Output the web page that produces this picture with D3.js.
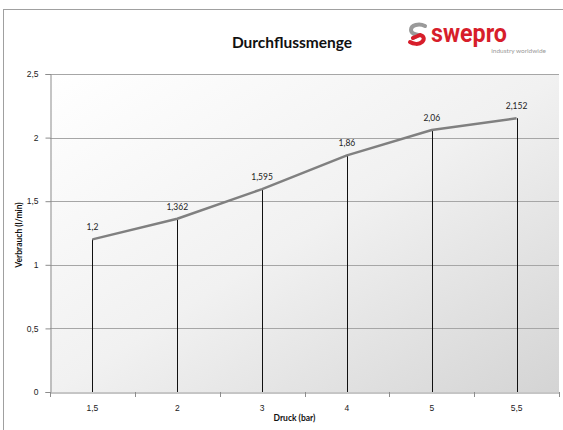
<!DOCTYPE html>
<html>
<head>
<meta charset="utf-8">
<script src="https://cdn.jsdelivr.net/npm/d3@7"></script>
<style>
  html, body { margin: 0; padding: 0; background: #fff; }
  svg { display: block; font-family: Lato, "Open Sans", "Liberation Sans", sans-serif; }
</style>
</head>
<body>
<svg id="chart" width="563" height="430"></svg>
<script>
/* Durchflussmenge — line with drop lines */

const pressures = ['1,5', '2', '3', '4', '5', '5,5'];
const flow = [1.2, 1.362, 1.595, 1.86, 2.06, 2.152];
const flowLabels = ['1,2', '1,362', '1,595', '1,86', '2,06', '2,152'];
const yTicks = [0, 0.5, 1, 1.5, 2, 2.5];
const yTickLabels = ['0', '0,5', '1', '1,5', '2', '2,5'];

const svg = d3.select('#chart');
const W = 563, H = 430;
const m = { left: 50, right: 559, top: 74, bottom: 392 };

// outer frame (cut off at right/bottom like the source)
svg.append('rect')
  .attr('x', 3.5).attr('y', 9.5)
  .attr('width', W + 10).attr('height', H + 10)
  .attr('fill', '#fff').attr('stroke', '#a0a0a0').attr('stroke-width', 1);

// plot background gradient
const defs = svg.append('defs');
const grad = defs.append('linearGradient')
  .attr('id', 'bg').attr('x1', '0').attr('y1', '0').attr('x2', '1').attr('y2', '1');
grad.append('stop').attr('offset', '0%').attr('stop-color', '#ffffff');
grad.append('stop').attr('offset', '50%').attr('stop-color', '#f1f1f1');
grad.append('stop').attr('offset', '100%').attr('stop-color', '#d4d4d4');

svg.append('rect')
  .attr('x', m.left).attr('y', m.top)
  .attr('width', m.right - m.left).attr('height', m.bottom - m.top)
  .attr('fill', 'url(#bg)');

const x = d3.scaleBand().domain(pressures).range([m.left, m.right]);
const y = d3.scaleLinear().domain([0, 2.5]).range([m.bottom, m.top]);
const cx = d => x(d) + x.bandwidth() / 2;

// gridlines
svg.append('g').selectAll('line')
  .data(yTicks.filter(t => t > 0))
  .enter().append('line')
  .attr('x1', m.left).attr('x2', m.right)
  .attr('y1', d => Math.round(y(d)) + 0.5).attr('y2', d => Math.round(y(d)) + 0.5)
  .attr('stroke', '#a6a6a6').attr('stroke-width', 1);

// y axis
const yAxis = svg.append('g')
  .attr('transform', `translate(${m.left + 0.5},0)`)
  .call(d3.axisLeft(y).tickValues(yTicks).tickSize(5).tickFormat((d, i) => yTickLabels[i]));
yAxis.select('.domain').attr('stroke', '#8c8c8c');
yAxis.selectAll('.tick line').attr('stroke', '#8c8c8c');
yAxis.selectAll('text').attr('font-size', 8.5).attr('fill', '#222').attr('x', -12);

// x axis
const xAxis = svg.append('g')
  .attr('transform', `translate(0,${m.bottom + 0.5})`)
  .call(d3.axisBottom(x).tickSize(0).tickPadding(12));
xAxis.select('.domain').attr('stroke', '#8c8c8c');
xAxis.selectAll('text').attr('font-size', 8.5).attr('fill', '#222');
// tick marks at category boundaries
const bounds = pressures.map(p => x(p)).concat([m.right]);
svg.append('g').selectAll('line')
  .data(bounds)
  .enter().append('line')
  .attr('x1', d => Math.round(d) + 0.5).attr('x2', d => Math.round(d) + 0.5)
  .attr('y1', m.bottom).attr('y2', m.bottom + 5)
  .attr('stroke', '#8c8c8c');

// drop lines
svg.append('g').selectAll('line')
  .data(pressures)
  .enter().append('line')
  .attr('x1', d => Math.round(cx(d)) + 0.5).attr('x2', d => Math.round(cx(d)) + 0.5)
  .attr('y1', (d, i) => y(flow[i])).attr('y2', m.bottom)
  .attr('stroke', '#111').attr('stroke-width', 1);

// series line
const line = d3.line().x((d, i) => cx(pressures[i])).y(d => y(d));
svg.append('path')
  .datum(flow)
  .attr('d', line)
  .attr('fill', 'none')
  .attr('stroke', '#808080')
  .attr('stroke-width', 2.5)
  .attr('stroke-linejoin', 'round');

// data labels
svg.append('g').selectAll('text')
  .data(flowLabels)
  .enter().append('text')
  .attr('x', (d, i) => cx(pressures[i]))
  .attr('y', (d, i) => y(flow[i]) - 9)
  .attr('text-anchor', 'middle')
  .attr('font-size', 8.5)
  .attr('fill', '#222')
  .text(d => d);

// axis titles
svg.append('text')
  .attr('x', (m.left + m.right) / 2 - 10).attr('y', 421)
  .attr('text-anchor', 'middle').attr('font-size', 8.5).attr('font-weight', 'bold')
  .attr('fill', '#111').text('Druck (bar)');
svg.append('text')
  .attr('transform', `translate(22,${(m.top + m.bottom) / 2 + 2}) rotate(-90)`)
  .attr('text-anchor', 'middle').attr('font-size', 8.5).attr('font-weight', 'bold')
  .attr('fill', '#111').text('Verbrauch (l/min)');

// title
svg.append('text')
  .attr('x', 292).attr('y', 48)
  .attr('text-anchor', 'middle').attr('font-size', 15.5).attr('font-weight', 'bold')
  .attr('fill', '#111').text('Durchflussmenge');

// logo
const logo = svg.append('g').attr('transform', 'translate(409,24)');
logo.append('path')
  .attr('d', 'M16,2 C10,-1 2,1 2,6 C2,10 6,10 9,11 L4,14')
  .attr('fill', 'none').attr('stroke', '#9a9a9a').attr('stroke-width', 4).attr('stroke-linecap', 'round');
logo.append('path')
  .attr('d', 'M4,14 L11,11 C15,12 16,15 13,18 C10,21 4,20 1,18')
  .attr('fill', 'none').attr('stroke', '#d71e2b').attr('stroke-width', 4).attr('stroke-linecap', 'round');
logo.append('text')
  .attr('x', 22).attr('y', 18)
  .attr('font-family', '"Liberation Sans Narrow", "Roboto", sans-serif')
  .attr('font-size', 25).attr('font-weight', 'bold').attr('fill', '#d71e2b')
  .attr('textLength', 76).attr('lengthAdjust', 'spacingAndGlyphs')
  .text('swepro');
logo.append('text')
  .attr('x', 137).attr('y', 29).attr('text-anchor', 'end')
  .attr('font-size', 6.5).attr('fill', '#9a9a9a')
  .text('industry worldwide');
</script>
</body>
</html>
